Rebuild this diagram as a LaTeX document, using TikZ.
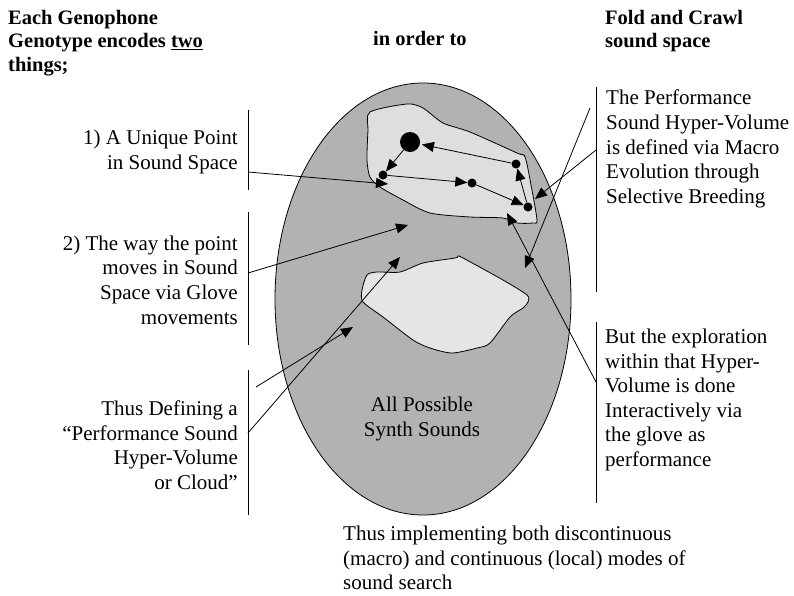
\documentclass[tikz,border=0pt]{standalone}
\usepackage{fontspec}
\setmainfont{Liberation Serif}
\usetikzlibrary{arrows.meta}
\definecolor{spacegray}{gray}{0.70}
\definecolor{blobgray}{gray}{0.87}
\definecolor{blobgrayb}{gray}{0.90}
\tikzset{
  lab/.style={inner sep=0pt, font=\fontsize{21}{24.6}\selectfont},
  head/.style={inner sep=0pt, font=\fontsize{20.5}{23.5}\selectfont\bfseries},
  bar/.style={line width=0.9pt},
  conn/.style={line width=0.8pt, -{Triangle[length=12pt,width=10pt]}},
  dot/.style={circle, fill=black, inner sep=0pt, minimum size=9pt},
  bigdot/.style={circle, fill=black, inner sep=0pt, minimum size=20pt},
}
\begin{document}
\begin{tikzpicture}[x=1pt,y=-1pt]
\useasboundingbox (0,0) rectangle (794,595);
% sound space ellipse
\draw[fill=spacegray, line width=0.8pt] (423,299) ellipse [x radius=148, y radius=216];
% upper blob
\draw[fill=blobgray, line width=0.8pt] plot[smooth cycle, tension=0.45] coordinates {
 (370,112) (407,104) (423,108) (443,123) (470,132) (517,153) (525,157)
 (531,185) (537,220) (533,223) (517,223) (503,218) (470,217) (430,213)
 (403,200) (380,187) (370,177) (367,160) (368,130)};
% lower blob
\draw[fill=blobgrayb, line width=0.8pt] plot[smooth cycle, tension=0.45] coordinates {
 (367,275) (377,272) (400,272) (423,263) (455,258) (458,256) (463,258)
 (503,280) (527,295) (528,302) (523,308) (510,317) (490,343) (477,348)
 (452,353) (430,348) (413,340) (383,317) (363,302) (362,290)};
\node[lab, align=center] (all) at (422,419) {All Possible\\Synth Sounds};
% dots in the upper blob
\node[bigdot] (big) at (410,142) {};
\node[dot] (d1) at (383,175) {};
\node[dot] (d2) at (472,183) {};
\node[dot] (d3) at (516,164) {};
\node[dot] (d4) at (528,207) {};
\draw[conn, shorten >=2pt] (d3) -- (big);
\draw[conn] (big) -- (d1);
\draw[conn] (d1) -- (d2);
\draw[conn] (d2) -- (d4);
\draw[conn] (d4) -- (d3);
% headers
\node[head, anchor=base west, align=left] (h1) at (8,71) {Each Genophone\\Genotype encodes \underline{two}\\things;};
\node[head, anchor=base west] (h2) at (373,45) {in order to};
\node[head, anchor=base west, align=left] (h3) at (605,47.5) {Fold and Crawl\\sound space};
% left labels
\node[lab, anchor=east, align=right] (l1) at (238,152) {1) A Unique Point\\in Sound Space};
\node[lab, anchor=east, align=right] (l2) at (238,280) {2) The way the point\\moves in Sound\\Space via Glove\\movements};
\node[lab, anchor=east, align=right] (l3) at (238,445) {Thus Defining a\\“Performance Sound\\Hyper-Volume\\or Cloud”};
\draw[bar] (248,110) -- (248,190);
\draw[bar] (248,212) -- (248,345);
\draw[bar] (248,370) -- (248,515);
% right labels
\node[lab, anchor=west, align=left] (r1) at (606,149) {The Performance\\Sound Hyper-Volume\\is defined via Macro\\Evolution through\\Selective Breeding};
\node[lab, anchor=west, align=left] (r2) at (605,400) {But the exploration\\within that Hyper-\\Volume is done\\Interactively via\\the glove as\\performance};
\draw[bar] (596,87) -- (596,292);
\draw[bar] (596,322) -- (596,503);
% bottom text
\node[lab, anchor=west, align=left] (bt) at (343,558) {Thus implementing both discontinuous\\(macro) and continuous (local) modes of\\sound search};
% connector start/end coordinates
\coordinate (s1) at (248,172); \coordinate (e1) at (388,184);
\coordinate (s2) at (248,273); \coordinate (e2) at (408,225);
\coordinate (s3) at (256,387); \coordinate (e3) at (353,327);
\coordinate (s4) at (248,433); \coordinate (e4) at (400,257);
\coordinate (s5) at (590,108); \coordinate (e5) at (525,268);
\coordinate (s6) at (596,150); \coordinate (e6) at (535,199);
\coordinate (s7) at (596,382); \coordinate (e7) at (507,213);
\draw[conn] (s1) -- (e1);
\draw[conn] (s2) -- (e2);
\draw[conn] (s3) -- (e3);
\draw[conn] (s4) -- (e4);
\draw[conn] (s5) -- (e5);
\draw[conn] (s6) -- (e6);
\draw[conn] (s7) -- (e7);
\end{tikzpicture}
\end{document}
